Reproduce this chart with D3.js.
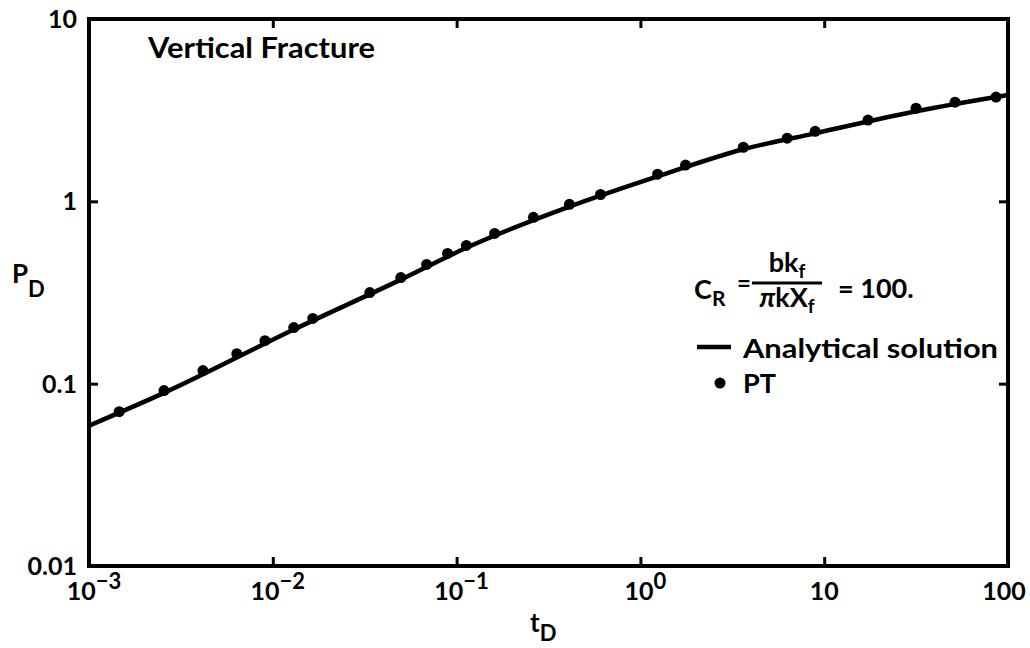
<!DOCTYPE html>
<html><head><meta charset="utf-8">
<script src="https://cdn.jsdelivr.net/npm/d3@7"></script>
<style>body{margin:0;background:#fff}svg{display:block}text{font-family:Lato,"DejaVu Sans",sans-serif;fill:#000}</style>
</head><body><svg id="c" width="1030" height="648"></svg>
<script>
// Data
const xTicks = [1e-3, 1e-2, 1e-1, 1, 10, 100];
const xTickBase = ["10", "10", "10", "10", "10", "100"];
const xTickExp = ["-3", "-2", "-1", "0", "", ""];
const yTicks = [0.01, 0.1, 1, 10];
const yTickLabels = ["0.01", "0.1", "1", "10"];
// Analytical solution
const lineT = [1e-3, 2.56e-3, 0.0130, 0.0497, 0.113, 0.411, 1.24, 3.63, 8.93, 31.6, 100];
const lineP = [0.0588, 0.089, 0.198, 0.372, 0.556, 0.935, 1.37, 1.93, 2.36, 3.12, 3.83];
// PT points
const ptT = [1.46e-3, 2.56e-3, 4.17e-3, 6.37e-3, 9.06e-3, 0.0130, 0.0165, 0.0337, 0.0497, 0.0687, 0.0893, 0.113, 0.161, 0.262, 0.411, 0.607, 1.24, 1.76, 3.63, 6.29, 8.93, 17.3, 31.6, 51.5, 86.1];
const ptP = [0.0702, 0.0916, 0.118, 0.146, 0.172, 0.203, 0.228, 0.316, 0.382, 0.451, 0.518, 0.573, 0.667, 0.817, 0.963, 1.09, 1.41, 1.58, 1.98, 2.22, 2.42, 2.79, 3.24, 3.50, 3.73];

const svg = d3.select("#c");
const L = 89, R = 1008, T = 19, B = 566;
const x = d3.scaleLog().domain([1e-3, 100]).range([L, R]);
const y = d3.scaleLog().domain([0.01, 10]).range([B, T]);

// frame
svg.append("rect").attr("x", L).attr("y", T).attr("width", R - L).attr("height", B - T)
  .attr("fill", "none").attr("stroke", "#000").attr("stroke-width", 4);

// inward ticks on all sides
const tk = 9;
svg.append("g").attr("transform", `translate(0,${B})`)
  .call(d3.axisBottom(x).tickValues(xTicks).tickSize(-tk).tickFormat(""))
  .call(g => { g.select(".domain").remove(); g.selectAll("line").attr("stroke-width", 3); });
svg.append("g").attr("transform", `translate(0,${T})`)
  .call(d3.axisTop(x).tickValues(xTicks).tickSize(-tk).tickFormat(""))
  .call(g => { g.select(".domain").remove(); g.selectAll("line").attr("stroke-width", 3); });
svg.append("g").attr("transform", `translate(${L},0)`)
  .call(d3.axisLeft(y).tickValues(yTicks).tickSize(-tk).tickFormat(""))
  .call(g => { g.select(".domain").remove(); g.selectAll("line").attr("stroke-width", 3); });
svg.append("g").attr("transform", `translate(${R},0)`)
  .call(d3.axisRight(y).tickValues(yTicks).tickSize(-tk).tickFormat(""))
  .call(g => { g.select(".domain").remove(); g.selectAll("line").attr("stroke-width", 3); });

// x tick labels
xTicks.forEach((v, i) => {
  const t = svg.append("text").attr("y", 600).attr("font-size", 25).attr("font-weight", 700)
    .attr("text-anchor", "middle").attr("x", x(v) + (xTickExp[i] ? 5 : (i === 5 ? -4 : 0)));
  t.append("tspan").text(xTickBase[i]);
  if (xTickExp[i]) t.append("tspan").attr("dy", -11).attr("font-size", 22).text(xTickExp[i].replace("-", "\u2212"));
});
// y tick labels
yTicks.forEach((v, i) => {
  svg.append("text").attr("x", 77).attr("y", y(v) + 9).attr("text-anchor", "end")
    .attr("font-size", 25).attr("font-weight", 700).text(yTickLabels[i]);
});

// axis titles
const yt = svg.append("text").attr("x", 12).attr("y", 283).attr("font-size", 26).attr("font-weight", 700);
yt.append("tspan").text("P");
yt.append("tspan").attr("dy", 14).attr("font-size", 22).text("D");
const xt = svg.append("text").attr("x", 530).attr("y", 632).attr("font-size", 26).attr("font-weight", 700);
xt.append("tspan").text("t");
xt.append("tspan").attr("dy", 9).attr("font-size", 22).text("D");

// title
svg.append("text").attr("x", 148).attr("y", 58).attr("font-size", 28).attr("font-weight", 700)
  .attr("textLength", 227).attr("lengthAdjust", "spacingAndGlyphs").text("Vertical Fracture");

// line
const lineData = lineT.map((t, i) => [t, lineP[i]]);
svg.append("path").datum(lineData)
  .attr("d", d3.line().x(d => x(d[0])).y(d => y(d[1])).curve(d3.curveMonotoneX))
  .attr("fill", "none").attr("stroke", "#000").attr("stroke-width", 4.5);
// points
svg.append("g").selectAll("circle").data(ptT.map((t, i) => [t, ptP[i]])).join("circle")
  .attr("cx", d => x(d[0])).attr("cy", d => y(d[1])).attr("r", 5.5).attr("fill", "#000");

// legend / annotation
const fs = 27;
const cr = svg.append("text").attr("x", 694).attr("y", 299).attr("font-size", fs).attr("font-weight", 700);
cr.append("tspan").text("C");
cr.append("tspan").attr("dy", 7).attr("font-size", 21).text("R");
svg.append("text").attr("x", 737).attr("y", 292).attr("font-size", 24).attr("font-weight", 700).text("=");
const num = svg.append("text").attr("x", 787).attr("y", 272).attr("text-anchor", "middle").attr("font-size", fs).attr("font-weight", 700);
num.append("tspan").text("bk");
num.append("tspan").attr("dy", 6).attr("font-size", 19).text("f");
svg.append("line").attr("x1", 752).attr("x2", 822).attr("y1", 283).attr("y2", 283).attr("stroke", "#000").attr("stroke-width", 3);
const den = svg.append("text").attr("x", 787).attr("y", 307).attr("text-anchor", "middle").attr("font-size", fs).attr("font-weight", 700);
den.append("tspan").attr("font-style", "italic").text("\u03c0");
den.append("tspan").text("kX");
den.append("tspan").attr("dy", 6).attr("font-size", 19).text("f");
svg.append("text").attr("x", 838).attr("y", 298).attr("font-size", fs).attr("font-weight", 700).text("= 100.");

svg.append("line").attr("x1", 697).attr("x2", 731).attr("y1", 347).attr("y2", 347).attr("stroke", "#000").attr("stroke-width", 4.5);
svg.append("text").attr("x", 743).attr("y", 358).attr("font-size", fs).attr("font-weight", 700)
  .attr("textLength", 255).attr("lengthAdjust", "spacingAndGlyphs").text("Analytical solution");
svg.append("circle").attr("cx", 720).attr("cy", 383).attr("r", 5.5).attr("fill", "#000");
svg.append("text").attr("x", 743).attr("y", 393).attr("font-size", fs).attr("font-weight", 700).text("PT");
</script></body></html>
